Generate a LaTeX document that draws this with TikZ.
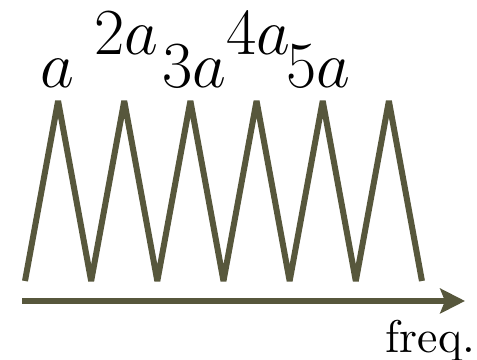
\documentclass[tikz,border=0pt]{standalone}
\usetikzlibrary{arrows.meta}
\definecolor{SpikeOlive}{HTML}{57573C}

\begin{document}
\begin{tikzpicture}[x=0.0125cm,y=0.0125cm,
  spike/.style={SpikeOlive,line width=0.075cm,line join=bevel},
  axis/.style={SpikeOlive,line width=0.075cm,
    -{Stealth[length=0.31cm,width=0.31cm,inset=0.06cm]}},
  harm/.style={anchor=base,inner sep=0pt,font=\Huge,scale=0.94}]
\useasboundingbox (0,0) rectangle (477,360);
\draw[spike] (25,79) \foreach \k in {1,...,6} { -- ++(33.08,180) -- ++(33.08,-180) };
\coordinate (axis start) at (22,59);
\coordinate (axis end) at (465,59);
\draw[axis] (axis start) -- (axis end);
\foreach \i/\x/\y/\lab in {1/57/272/a,2/126/305/2a,3/194/272/3a,4/258/305/4a,5/318/272/5a}
  \node[harm] (h\i) at (\x,\y) {$\lab$};
\node[anchor=base east,inner sep=0pt,scale=1.63] (freq) at (476,7) {freq.};
\end{tikzpicture}
\end{document}
